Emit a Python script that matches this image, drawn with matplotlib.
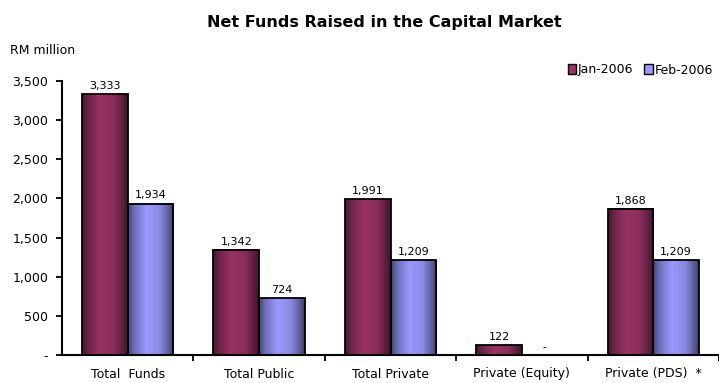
import numpy as np
import matplotlib
matplotlib.use("Agg")
import matplotlib.pyplot as plt
from matplotlib.colors import to_rgb
from matplotlib.patches import Patch

CATEGORIES = ["Total  Funds", "Total Public", "Total Private", "Private (Equity)", "Private (PDS)  *"]
JAN_2006 = [3333, 1342, 1991, 122, 1868]
FEB_2006 = [1934, 724, 1209, 0, 1209]
SERIES_NAMES = ["Jan-2006", "Feb-2006"]
COLORS = ["#993366", "#9999FF"]
Y_TICKS = [0, 500, 1000, 1500, 2000, 2500, 3000, 3500]

plt.rcParams["font.family"] = ["DejaVu Sans"]

fig = plt.figure(figsize=(7.19, 3.83), dpi=100)
ax = fig.add_axes([62 / 719, 28 / 383, 657 / 719, 274 / 383])

x = np.arange(len(CATEGORIES))
width = 0.348


def shaded(color, n=64):
    # dark edges, lighter band left of centre, like a rounded bar face
    base = np.array(to_rgb(color))
    t = np.linspace(0, 1, n)
    light = np.interp(t, [0, 0.12, 0.4, 0.7, 0.9, 1.0], [0.45, 0.7, 1.0, 0.9, 0.6, 0.4])
    return np.clip(base[None, :] * light[:, None], 0, 1)[None, :, :]


def fmt(v):
    return "-" if v == 0 else f"{v:,}"


for vals, offset, color in [(JAN_2006, -width / 2, COLORS[0]), (FEB_2006, width / 2, COLORS[1])]:
    bars = ax.bar(x + offset, vals, width, facecolor="none", edgecolor="black", linewidth=1.3, zorder=3)
    grad = shaded(color)
    for b, v in zip(bars, vals):
        if v > 0:
            x0, h = b.get_x(), b.get_height()
            ax.imshow(grad, extent=[x0, x0 + width, 0, h], aspect="auto", zorder=2, interpolation="bilinear")
        ax.text(b.get_x() + width / 2, v + 40, fmt(v), ha="center", va="bottom", fontsize=8)

ax.set_xlim(-0.5, -0.5 + 657 / 132)
ax.set_ylim(0, 3500)
ax.set_yticks(Y_TICKS)
ax.set_yticklabels([fmt(v) for v in Y_TICKS], fontsize=9)
ax.set_xticks(x)
ax.set_xticklabels(CATEGORIES, fontsize=9)
ax.tick_params(axis="x", length=0, pad=9)
ax.set_xticks(np.arange(len(CATEGORIES)) + 0.5, minor=True)
ax.tick_params(axis="x", which="minor", length=4, width=1.3, direction="out")
ax.tick_params(axis="y", length=4, width=1.3, direction="out", pad=6)
for side in ["top", "right"]:
    ax.spines[side].set_visible(False)
for side in ["left", "bottom"]:
    ax.spines[side].set_linewidth(1.5)

fig.text(0.535, 1 - 22 / 383, "Net Funds Raised in the Capital Market", ha="center", va="center",
         fontsize=11.5, fontweight="bold")
fig.text(10 / 719, 1 - 50 / 383, "RM million", ha="left", va="center", fontsize=9)

handles = [Patch(facecolor=c, edgecolor="black") for c in COLORS]
fig.legend(handles, SERIES_NAMES, loc="center right", bbox_to_anchor=(1.0, 1 - 70 / 383), ncol=2,
           frameon=False, fontsize=9, handlelength=0.7, handleheight=0.8, handletextpad=0.1,
           columnspacing=0.9, borderaxespad=0.1)

fig.savefig("out.png", dpi=100)
